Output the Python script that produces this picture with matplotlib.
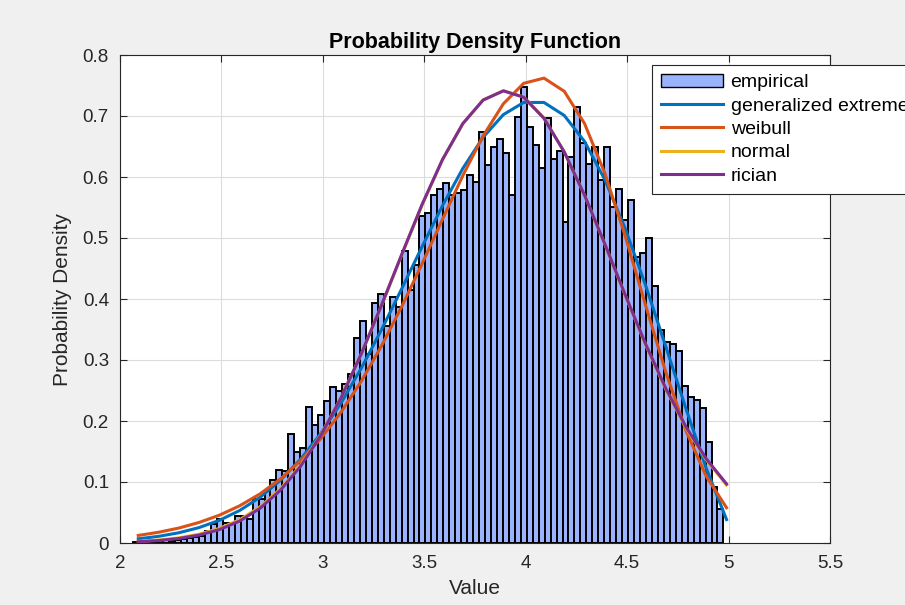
import numpy as np
import matplotlib
matplotlib.use("Agg")
import matplotlib.pyplot as plt
from matplotlib.patches import Patch
from matplotlib.lines import Line2D

# ---------------- data ----------------
bin_start = 2.066
bin_width = 0.02938
hist_density = [
    0.002, 0.002, 0.003, 0.003, 0.004, 0.005, 0.004, 0.005, 0.006, 0.008,
    0.010, 0.012, 0.020, 0.031, 0.040, 0.033, 0.031, 0.044, 0.044, 0.040,
    0.072, 0.072, 0.085, 0.103, 0.120, 0.118, 0.179, 0.150, 0.155, 0.223,
    0.193, 0.210, 0.233, 0.256, 0.250, 0.260, 0.277, 0.336, 0.364, 0.310,
    0.393, 0.408, 0.355, 0.404, 0.387, 0.479, 0.414, 0.456, 0.536, 0.541,
    0.570, 0.581, 0.590, 0.570, 0.574, 0.578, 0.603, 0.591, 0.673, 0.619,
    0.649, 0.662, 0.639, 0.570, 0.699, 0.747, 0.682, 0.652, 0.615, 0.697,
    0.629, 0.642, 0.526, 0.632, 0.714, 0.655, 0.621, 0.649, 0.595, 0.649,
    0.551, 0.581, 0.530, 0.563, 0.469, 0.475, 0.500, 0.422, 0.350, 0.330,
    0.326, 0.315, 0.257, 0.240, 0.235, 0.222, 0.166, 0.092, 0.056,
]

curve_x = [2.09, 2.19, 2.29, 2.39, 2.49, 2.59, 2.69, 2.79, 2.89, 2.99,
           3.09, 3.19, 3.29, 3.39, 3.49, 3.59, 3.69, 3.79, 3.89, 3.99,
           4.09, 4.19, 4.29, 4.39, 4.49, 4.59, 4.69, 4.79, 4.89, 4.99]

gev_pdf = [0.0069, 0.0109, 0.0168, 0.0253, 0.0372, 0.0533, 0.0748, 0.1025,
           0.1373, 0.1796, 0.2297, 0.2869, 0.3502, 0.4176, 0.4864, 0.5532,
           0.6141, 0.6652, 0.7023, 0.7222, 0.7222, 0.7009, 0.6582, 0.5956,
           0.5159, 0.4232, 0.3226, 0.2201, 0.1223, 0.0384]

weibull_pdf = [0.0124, 0.0176, 0.0245, 0.0337, 0.0456, 0.0610, 0.0805, 0.1048,
               0.1348, 0.1712, 0.2146, 0.2654, 0.3236, 0.3884, 0.4584, 0.5309,
               0.6023, 0.6674, 0.7201, 0.7536, 0.7621, 0.7405, 0.6876, 0.6061,
               0.5036, 0.3907, 0.2805, 0.1841, 0.1093, 0.0578]

normal_pdf = [0.0026, 0.0048, 0.0084, 0.0144, 0.0239, 0.0382, 0.0591, 0.0883,
              0.1273, 0.1775, 0.2386, 0.3103, 0.3898, 0.4731, 0.5547, 0.6281,
              0.6872, 0.7262, 0.7414, 0.7312, 0.6966, 0.6413, 0.5702, 0.4898,
              0.4064, 0.3258, 0.2523, 0.1887, 0.1364, 0.0952]

rician_pdf = [0.0021, 0.0041, 0.0074, 0.0130, 0.0220, 0.0360, 0.0568, 0.0862,
              0.1257, 0.1765, 0.2382, 0.3105, 0.3905, 0.4741, 0.5557, 0.6289,
              0.6876, 0.7262, 0.7412, 0.7308, 0.6962, 0.6410, 0.5702, 0.4902,
              0.4072, 0.3270, 0.2538, 0.1903, 0.1381, 0.0968]

legend_labels = ["empirical", "generalized extreme value", "weibull", "normal", "rician"]
x_ticks = [2, 2.5, 3, 3.5, 4, 4.5, 5, 5.5]
y_ticks = [0, 0.1, 0.2, 0.3, 0.4, 0.5, 0.6, 0.7, 0.8]

# ---------------- style ----------------
plt.rcParams['font.family'] = ['Liberation Sans', 'DejaVu Sans']
c_bar = '#99B3FF'
c_gev = '#0072BD'
c_wbl = '#D95319'
c_nrm = '#EDB120'
c_ric = '#7E2F8E'

fig = plt.figure(figsize=(9.05, 6.05), dpi=100, facecolor='#f0f0f0')
ax = fig.add_axes([120 / 905, 62 / 605, 710 / 905, 488 / 605])
ax.set_facecolor('white')

n = len(hist_density)
centers = bin_start + bin_width * (np.arange(n) + 0.5)
ax.bar(centers, hist_density, width=bin_width, color=c_bar,
       edgecolor='black', linewidth=1.4, zorder=2)

ax.plot(curve_x, gev_pdf, color=c_gev, lw=2.2, zorder=3)
ax.plot(curve_x, weibull_pdf, color=c_wbl, lw=2.2, zorder=3)
ax.plot(curve_x, normal_pdf, color=c_nrm, lw=2.2, zorder=3)
ax.plot(curve_x, rician_pdf, color=c_ric, lw=2.2, zorder=3)

ax.set_xlim(2, 5.5)
ax.set_ylim(0, 0.8)
ax.set_xticks(x_ticks)
ax.set_xticklabels([f"{t:g}" for t in x_ticks])
ax.set_yticks(y_ticks)
ax.set_yticklabels([f"{t:g}" for t in y_ticks])
ax.tick_params(direction='in', length=5, width=0.8, colors='#262626',
               labelsize=13.5, top=True, right=True)
ax.tick_params(axis='x', pad=9)
ax.tick_params(axis='y', pad=8)
for s in ax.spines.values():
    s.set_color('#262626')
    s.set_linewidth(0.8)
ax.grid(True, color='#dcdcdc', linewidth=0.8, zorder=0)
ax.set_axisbelow(True)

ax.set_xlabel("Value", fontsize=15, color='#262626', labelpad=5)
ax.set_ylabel("Probability Density", fontsize=15, color='#262626', labelpad=8)
ax.set_title("Probability Density Function", fontsize=15.5, fontweight='bold',
             color='black', pad=5)

handles = [Patch(facecolor=c_bar, edgecolor='black', linewidth=1.0),
           Line2D([], [], color=c_gev, lw=2.2),
           Line2D([], [], color=c_wbl, lw=2.2),
           Line2D([], [], color=c_nrm, lw=2.2),
           Line2D([], [], color=c_ric, lw=2.2)]
leg = ax.legend(handles, legend_labels, loc='upper left',
                bbox_to_anchor=(0.749, 0.98), fontsize=14,
                frameon=True, fancybox=False, framealpha=1,
                edgecolor='#262626', borderaxespad=0, handlelength=3.2,
                handletextpad=0.4, labelspacing=0.3, borderpad=0.45)
leg.get_frame().set_linewidth(0.8)
leg.set_zorder(5)

fig.savefig("out.png", dpi=100, facecolor=fig.get_facecolor())
